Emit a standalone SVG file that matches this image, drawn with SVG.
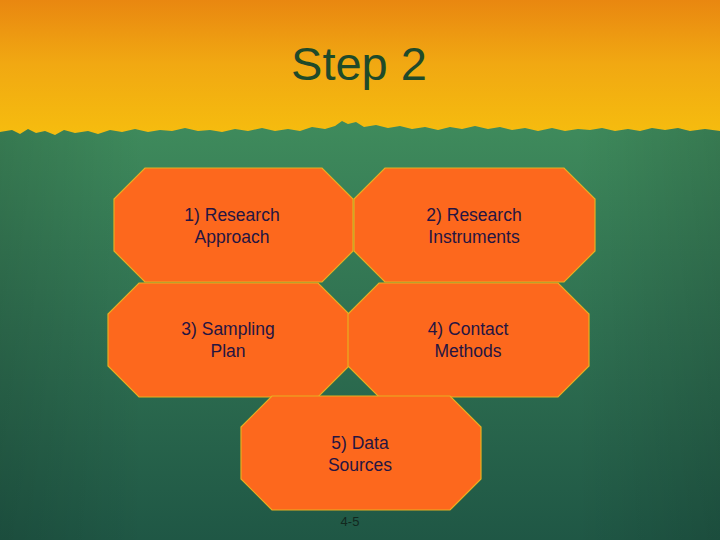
<svg xmlns="http://www.w3.org/2000/svg" width="720" height="540" viewBox="0 0 720 540">
  <defs>
    <linearGradient id="sky" x1="0" y1="0" x2="0" y2="1">
      <stop offset="0" stop-color="#E98710"/>
      <stop offset="0.45" stop-color="#F1A812"/>
      <stop offset="1" stop-color="#F6BE0E"/>
    </linearGradient>
    <linearGradient id="board" x1="0" y1="0" x2="0" y2="1">
      <stop offset="0" stop-color="#3F8B5C"/>
      <stop offset="0.5" stop-color="#2F7051"/>
      <stop offset="1" stop-color="#1F5745"/>
    </linearGradient>
    <linearGradient id="side" x1="0" y1="0" x2="1" y2="0">
      <stop offset="0" stop-color="#000" stop-opacity="0.12"/>
      <stop offset="0.2" stop-color="#000" stop-opacity="0"/>
      <stop offset="0.8" stop-color="#000" stop-opacity="0"/>
      <stop offset="1" stop-color="#000" stop-opacity="0.12"/>
    </linearGradient>
    <path id="green" d="M0,132 L12,130 L20,134 L28,129 L36,133 L45,131 L55,135 L64,130 L75,133 L88,131 L98,134 L110,130 L122,132 L135,129 L148,132 L160,130 L172,131 L185,128 L198,131 L210,130 L222,132 L235,129 L248,131 L262,128 L275,131 L288,129 L300,131 L312,127 L325,129 L335,126 L342,121 L348,124 L356,122 L364,127 L376,125 L388,128 L400,126 L412,129 L425,127 L438,130 L450,127 L462,129 L475,126 L488,129 L500,127 L512,130 L525,128 L538,131 L552,128 L565,131 L578,129 L590,130 L602,128 L615,131 L628,129 L640,131 L652,128 L665,130 L678,128 L690,131 L705,129 L720,131 L720,540 L0,540 Z"/>
    <style>
      .oct { fill: #FD681D; stroke: #E8B020; stroke-width: 1.2; }
      .lbl { font-family: "Liberation Sans", Arial, sans-serif; font-size: 17.5px; fill: #251542; text-anchor: middle; }
      .title { font-family: "Liberation Sans", Arial, sans-serif; font-size: 47px; fill: #1F4A2A; text-anchor: middle; }
      .pg { font-family: "Liberation Sans", Arial, sans-serif; font-size: 13px; fill: #12281E; text-anchor: middle; }
    </style>
  </defs>

  <rect x="0" y="0" width="720" height="140" fill="url(#sky)"/>
  <use href="#green" fill="url(#board)"/>
  <use href="#green" fill="url(#side)"/>

  <text class="title" x="359" y="80">Step 2</text>

  <g id="node1">
    <polygon class="oct" points="145,168 322,168 353,199 353,251 322,282 145,282 114,251 114,199"/>
    <text class="lbl" x="232" y="221">1) Research</text>
    <text class="lbl" x="232" y="243">Approach</text>
  </g>
  <g id="node2">
    <polygon class="oct" points="385,168 564,168 595,199 595,251 564,282 385,282 354,251 354,199"/>
    <text class="lbl" x="474" y="221">2) Research</text>
    <text class="lbl" x="474" y="243">Instruments</text>
  </g>
  <g id="node3">
    <polygon class="oct" points="139,283 318,283 349,314 349,366 318,397 139,397 108,366 108,314"/>
    <text class="lbl" x="228" y="335">3) Sampling</text>
    <text class="lbl" x="228" y="357">Plan</text>
  </g>
  <g id="node4">
    <polygon class="oct" points="379,283 558,283 589,314 589,366 558,397 379,397 348,366 348,314"/>
    <text class="lbl" x="468" y="335">4) Contact</text>
    <text class="lbl" x="468" y="357">Methods</text>
  </g>
  <g id="node5">
    <polygon class="oct" points="272,396 450,396 481,427 481,479 450,510 272,510 241,479 241,427"/>
    <text class="lbl" x="360" y="449">5) Data</text>
    <text class="lbl" x="360" y="471">Sources</text>
  </g>
  <g id="connectors"></g>

  <text class="pg" x="350" y="526">4-5</text>
</svg>
